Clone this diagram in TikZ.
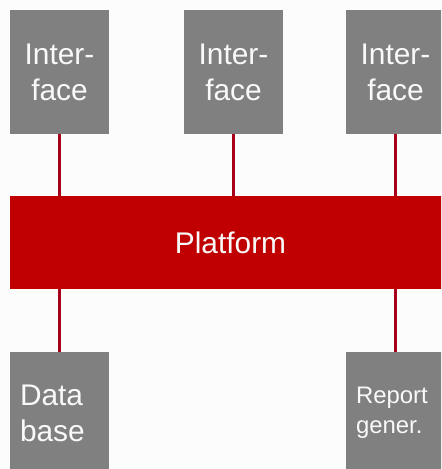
\documentclass[tikz,border=0pt]{standalone}
\usepackage{fontspec}
\setmainfont{Liberation Sans}
\usetikzlibrary{positioning}

\definecolor{boxgray}{HTML}{808080}
\definecolor{platred}{HTML}{C00000}
\definecolor{linkred}{HTML}{A8001A}

\begin{document}
\begin{tikzpicture}[x=0.02cm,y=-0.02cm,
  unit/.style={fill=boxgray,text=white!95!gray,inner sep=0pt,
    minimum width=1.98cm,align=center,
    font={\fontsize{17pt}{20.5pt}\selectfont}},
  topbox/.style={unit,minimum height=2.48cm},
  lowbox/.style={unit,minimum height=2.44cm,text width=1.58cm,align=left},
  link/.style={draw=linkred,line width=0.06cm}]
\useasboundingbox (0,0) rectangle (441,469);
\clip (0,0) rectangle (441,469);
\fill[white!98!gray] (0,0) rectangle (441,469);

% interfaces on top
\node[topbox] (if1) at (59.5,72) {Inter-\\face};
\node[topbox] (if2) at (233.5,72) {Inter-\\face};
\node[topbox] (if3) at (395.5,72) {Inter-\\face};

% the platform bar
\node[fill=platred,text=white!95!gray,minimum width=8.82cm,minimum height=1.86cm,
  font={\fontsize{17pt}{20.5pt}\selectfont}] (plat) at (230.5,242.5) {Platform};

% modules below
\node[lowbox] (db) at (59.5,413) {Data\\base};
\node[lowbox,font={\fontsize{13.6pt}{17pt}\selectfont}] (rep) at (395.5,413)
  {Report\\gener.};

\draw[link] (if1.south) -- (if1 |- plat.north);
\draw[link] (if2.south) -- (if2 |- plat.north);
\draw[link] (if3.south) -- (if3 |- plat.north);
\draw[link] (db |- plat.south) -- (db.north);
\draw[link] (rep |- plat.south) -- (rep.north);
\end{tikzpicture}
\end{document}
